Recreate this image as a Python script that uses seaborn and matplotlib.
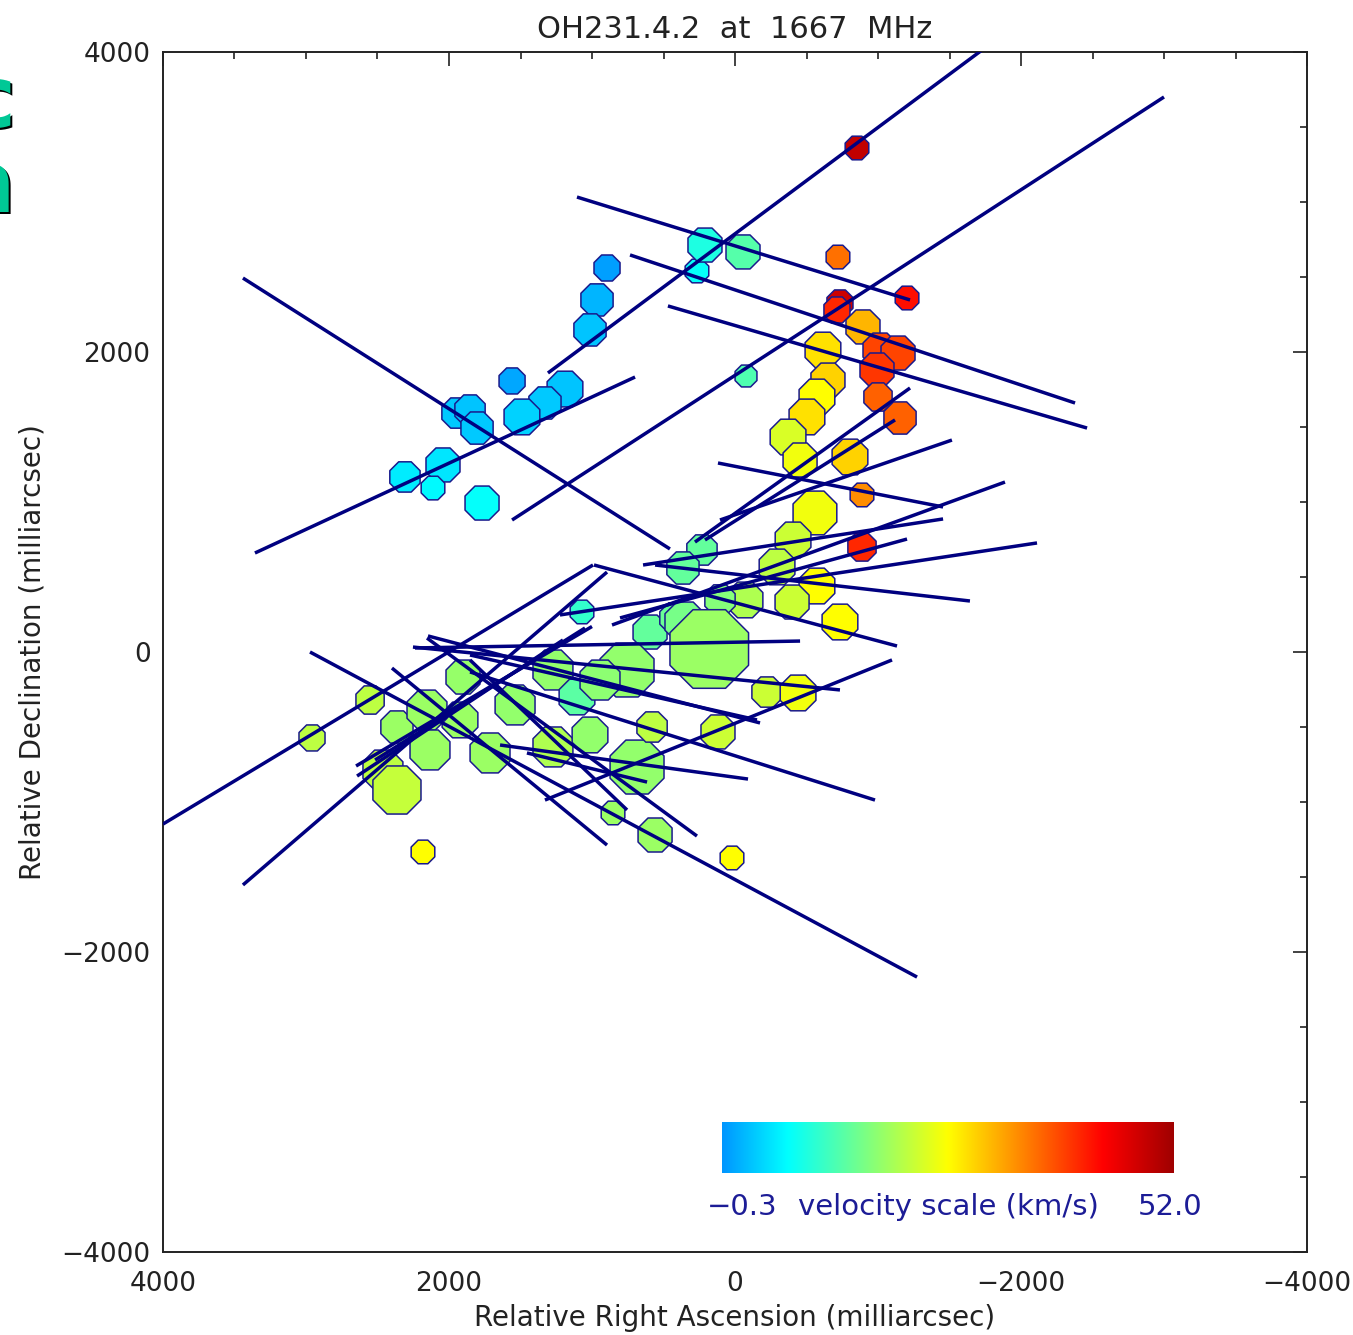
import numpy as np
import pandas as pd
import matplotlib
matplotlib.use("Agg")
import matplotlib.pyplot as plt
import seaborn as sns
from matplotlib.colors import LinearSegmentedColormap
from matplotlib.ticker import MultipleLocator
from matplotlib import transforms

# ---------------- data (milliarcsec, km/s) ----------------
spot_ra = [895, 965, 1014, 1559, 1189, 1329, 1490, 1944, 1853, 1804, 2308, 2042, 2112, 1769,
           266, 210, -56, -720, -853, -1203, -734, -713, -77,
           -895, -1014, -1140, -993, -1000, -1154, -804, -888, -888,
           -615, -650, -573, -503, -371, -455, -559, -406,
           231, 364, -294, -573, -399, -734, 1070, 594, 420, -70, 105,
           350, 180, 755, 1273, 1105, 944, 1902, 1538, 1923, 1713, 1273, 1014, 685, 580,
           119, -224, -441, 853, 559, 21, 2182, 2958, 2552, 2364, 2154, 2133, 2462, 2364]
spot_dec = [2560, 2347, 2147, 1807, 1753, 1660, 1567, 1593, 1613, 1493, 1167, 1247, 1093, 993,
            2540, 2713, 2667, 2633, 3360, 2360, 2327, 2280, 1840,
            2167, 2013, 1993, 1880, 1700, 1560, 1300, 1047, 700,
            2013, 1813, 1700, 1567, 1433, 1280, 927, 747,
            680, 560, 567, 440, 333, 200, 267, 133, 227, 347, 347,
            200, 20, -120, -120, -300, -187, -167, -353, -453, -673, -633, -553, -767, -500,
            -533, -267, -273, -1073, -1220, -1373, -1333, -573, -320, -500, -387, -653, -787, -920]
spot_vel = [0.5, 2.0, 3.0, 1.0, 3.0, 3.5, 4.0, 3.5, 3.0, 3.5, 6.0, 5.5, 7.0, 7.5,
            7.5, 9.5, 13.5, 36.0, 49.0, 43.0, 48.0, 41.0, 13.0,
            31.0, 39.0, 39.0, 40.0, 37.0, 37.0, 29.0, 34.0, 41.0,
            28.0, 29.0, 26.0, 28.0, 23.0, 25.0, 25.0, 22.0,
            14.5, 14.5, 21.0, 26.0, 22.0, 26.0, 11.0, 14.5, 15.0, 20.0, 17.0,
            16.0, 18.5, 18.0, 18.0, 14.0, 17.5, 18.2, 18.0, 18.5, 18.5, 20.0, 18.0, 18.0, 21.0,
            22.0, 22.0, 25.0, 18.5, 18.5, 26.0, 26.0, 21.0, 21.0, 18.5, 18.5, 18.5, 21.0, 21.7]
spot_flux = [1.7, 2.6, 2.6, 1.7, 3.2, 2.6, 3.2, 2.3, 2.3, 2.6, 2.3, 2.9, 1.4, 2.9,
             1.4, 2.9, 2.9, 1.4, 1.4, 1.4, 1.7, 1.7, 1.2,
             2.9, 2.9, 2.9, 2.9, 2.0, 2.6, 3.2, 1.4, 2.0,
             3.2, 2.9, 3.2, 3.2, 3.2, 2.9, 4.8, 3.2,
             2.3, 2.6, 3.2, 3.2, 2.9, 3.2, 1.4, 2.9, 2.3, 3.2, 2.3,
             4.0, 15.5, 7.3, 4.0, 3.2, 4.0, 2.9, 4.0, 3.2, 4.0, 4.0, 3.2, 7.3, 2.3,
             2.9, 2.3, 3.2, 1.4, 2.9, 1.4, 1.4, 1.7, 2.0, 2.6, 4.0, 4.0, 4.0, 5.8]

vec_ra1 = [4000, 3441, 3441, 3357, 1559, 1308, 1105, 734, 469, 119, 280, 210, 105, 860, 1224,
           559, 643, 804, 986, 2252, 1329, 1853, 1643, 2972, 2154, 2399, 2643, 2238, 1455,
           2147, 1853, 2650, 2517, 1853]
vec_dec1 = [-1147, -1553, 2493, 660, 880, 1860, 3033, 2647, 2307, 1260, 733, 747, 880, 180, 247,
            580, 580, 227, 580, 33, -987, -133, -620, 0, 93, -107, -827, 27, -673,
            107, -53, -760, -720, -20]
vec_ra2 = [993, 895, 455, 699, -3000, -1850, -1224, -2378, -2462, -1455, -1224, -1119, -1517,
           -1888, -2112, -1643, -1455, -1203, -1133, -734, -1098, -979, -91, -1273, 266, 895,
           1203, -455, 615, -175, 755, 1000, 1049, -154]
vec_dec2 = [580, 533, 687, 1833, 3700, 4100, 2347, 1660, 1493, 967, 1760, 1547, 1413, 1133,
            727, 340, 887, 753, 40, -253, -53, -987, -847, -2167, -1227, -1287, 80, 73, -867,
            -473, -1053, 170, 160, -453]

vel_min, vel_max = -0.3, 52.0

# ---------------- style ----------------
sns.set_theme(style="white")
plt.rcParams['font.family'] = ['DejaVu Sans']

W, H = 1353, 1335
fig = plt.figure(figsize=(W / 100, H / 100), dpi=100)
ax = fig.add_axes([163 / W, 1 - 1252 / H, (1307 - 163) / W, 1200 / H])

cmap = LinearSegmentedColormap.from_list(
    "vel", [(0.0, "#0096ff"), (0.144, "#00ffff"), (0.5, "#ffff00"),
            (0.845, "#ff0000"), (1.0, "#a00000")])

df = pd.DataFrame({"ra": spot_ra, "dec": spot_dec, "vel": spot_vel, "flux": spot_flux})
fmin, fmax = min(spot_flux), max(spot_flux)
k = 242.0
sns.scatterplot(data=df, x="ra", y="dec", hue="vel", size="flux",
                sizes=(k * fmin, k * fmax), size_norm=(fmin, fmax),
                hue_norm=(vel_min, vel_max), palette=cmap, marker="8",
                edgecolor="#1a1a8c", linewidth=1.1, legend=False, ax=ax, zorder=2)

for x1, y1, x2, y2 in zip(vec_ra1, vec_dec1, vec_ra2, vec_dec2):
    ax.plot([x1, x2], [y1, y2], color="#000080", lw=2.5, zorder=3,
            solid_capstyle="butt")

# velocity colour bar drawn inside the plot
grad = np.linspace(0, 1, 256)[None, :]
ax.imshow(grad, extent=[91, -3063, -3473, -3133], cmap=cmap, aspect="auto",
          zorder=1, interpolation="bilinear")
lab_col = "#1c1c96"
ax.text(-49, -3700, "\u22120.3", color=lab_col, fontsize=21, ha="center", va="center")
ax.text(-1490, -3700, "velocity scale (km/s)", color=lab_col, fontsize=21,
        ha="center", va="center")
ax.text(-3042, -3700, "52.0", color=lab_col, fontsize=21, ha="center", va="center")

ax.set_xlim(4000, -4000)
ax.set_ylim(-4000, 4000)
ax.xaxis.set_major_locator(MultipleLocator(2000))
ax.yaxis.set_major_locator(MultipleLocator(2000))
ax.xaxis.set_minor_locator(MultipleLocator(500))
ax.yaxis.set_minor_locator(MultipleLocator(500))
ax.tick_params(which="both", direction="in", top=True, right=True,
               colors="#222222", labelcolor="#222222", labelsize=19, width=1.2)
ax.tick_params(which="major", length=10)
ax.tick_params(which="minor", length=5)
ax.tick_params(axis="x", pad=14)
ax.tick_params(axis="y", pad=9)
for s in ax.spines.values():
    s.set_color("#222222")
    s.set_linewidth(1.4)

ax.set_xlabel("Relative Right Ascension (milliarcsec)", fontsize=20, color="#222222",
              labelpad=5)
ax.set_ylabel("Relative Declination (milliarcsec)", fontsize=20, color="#222222",
              labelpad=11)
ax.set_title("OH231.4.2  at  1667  MHz", fontsize=22, color="#222222", pad=10)

# clipped slide letters at the left edge
for txt, base in (("c", 127), ("n", 212)):
    shadow = transforms.offset_copy(fig.transFigure, fig=fig, x=2.5, y=-2.5, units="dots")
    fig.text(15 / W, 1 - base / H, txt, fontsize=62, fontweight="bold", color="black",
             ha="right", va="baseline", transform=shadow)
    fig.text(15 / W, 1 - base / H, txt, fontsize=62, fontweight="bold", color="#00c896",
             ha="right", va="baseline")

fig.savefig("out.png", dpi=100, facecolor="white")
